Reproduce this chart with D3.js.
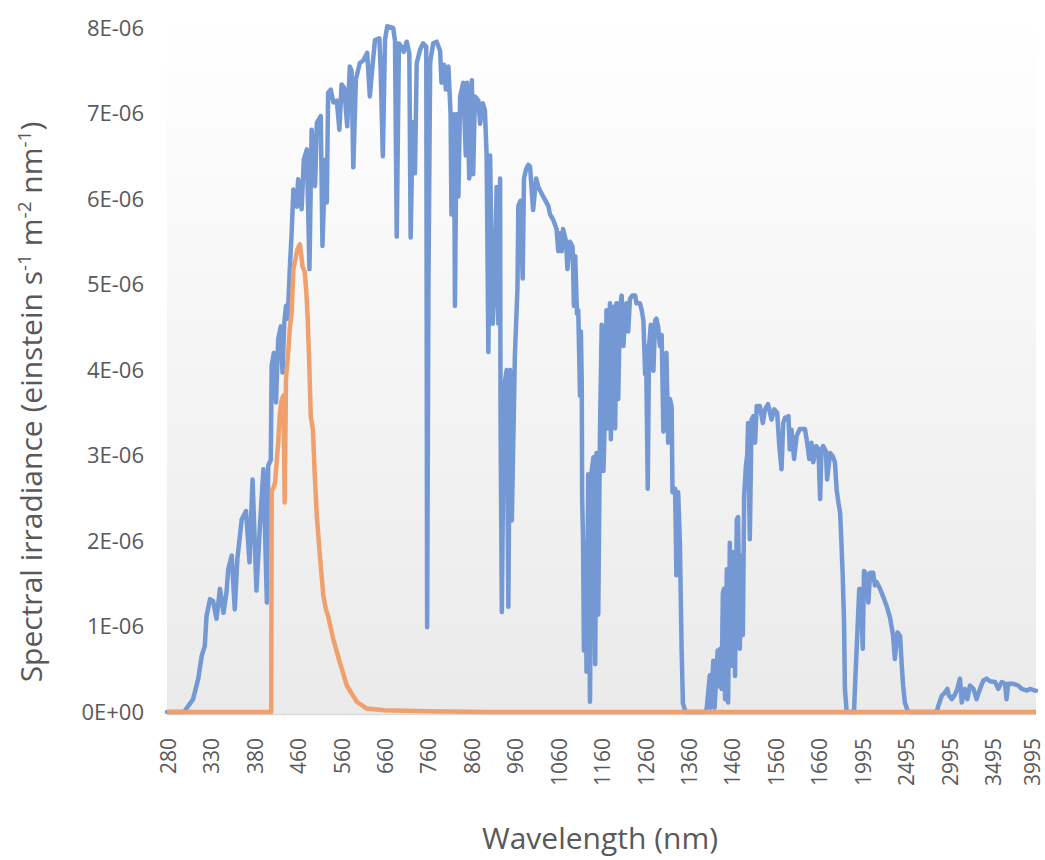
<!DOCTYPE html>
<html>
<head>
<meta charset="utf-8">
<script src="https://cdn.jsdelivr.net/npm/d3@7"></script>
<style>
  html, body { margin: 0; padding: 0; background: #ffffff; }
  svg { display: block; }
  text { font-family: "Open Sans", "Liberation Sans", sans-serif; fill: #595959; }
</style>
</head>
<body>
<svg id="chart" width="1045" height="860"></svg>
<script>
// ---- Data (values in units of 1E-06 einstein s^-1 m^-2 nm^-1) ----
const UNIT = 1e-6;

// Category axis tick labels (wavelength, nm)
const xTickLabels = [280, 330, 380, 460, 560, 660, 760, 860, 960, 1060, 1160, 1260,
                     1360, 1460, 1560, 1660, 1995, 2495, 2995, 3495, 3995];
const yTickLabels = ["0E+00", "1E-06", "2E-06", "3E-06", "4E-06", "5E-06", "6E-06", "7E-06", "8E-06"];

// Category breakpoints of the wavelength grid (nm) and their category index
const gridWavelengths = [280, 400, 1700, 1702, 1705, 4000];
const gridIndices = [0, 240, 1540, 1541, 1542, 2001];

// Solar spectral photon irradiance [wavelength, value]
const solarSeries = [
[280,0],[300,0],[301,0.02],[310,0.15],[316,0.39],[320,0.66],[323.5,0.77],[325.5,1.12],[329.5,1.32],[333,1.3],
[337,1.09],[341,1.44],[345,1.16],[348.5,1.4],[350.5,1.67],[354.5,1.83],[358,1.2],[361,1.79],[366,2.25],[371,2.35],
[375,1.75],[378.5,2.72],[383,1.42],[387,2.18],[391,2.84],[395,1.28],[396.5,2.88],[399.5,2.95],[401,4.05],[406,4.2],
[411,3.62],[416,4.36],[422,4.51],[426,3.97],[430,4.55],[434,4.75],[438,4.6],[443,5.21],[447,5.6],[451,6.11],
[455,5.95],[459,5.91],[462,6.23],[466,6.1],[470,5.88],[475,6.46],[482,6.58],[488,5.18],[493,6.81],[501,6.15],
[505,6.89],[514,6.97],[518,5.45],[524,6.46],[528,5.96],[531,7.24],[537,7.28],[543,7.13],[551,7.15],[557,6.81],
[562,7.34],[568,7.3],[575,6.85],[581,7.55],[585,7.5],[589,6.37],[595,7.4],[604,7.59],[612,7.62],[621,7.71],
[627,7.2],[634,7.6],[639,7.86],[649,7.88],[652,7.5],[657,6.5],[662,7.86],[667,8.02],[681,8.0],[685,7.85],
[689,5.56],[694,7.82],[700,7.78],[705,7.72],[712,7.84],[718,7.7],[721,5.55],[726,6.9],[731,6.3],[735,7.59],
[743,7.75],[750,7.82],[757,7.78],[759,0.99],[762,5.0],[766,7.6],[773,7.82],[781,7.84],[789,7.73],[792,7.36],
[798,7.57],[802,7.28],[808,7.55],[813,6.99],[815,5.82],[821,6.99],[823,4.75],[827,6.99],[831,6.03],[835,7.2],
[842,7.36],[848,6.51],[851,7.36],[856,6.24],[862,7.39],[865,6.29],[869,7.2],[877,7.15],[881,6.88],[887,7.12],
[892,7.04],[896,6.51],[900,4.21],[904,6.51],[908,5.18],[910,4.54],[915,5.07],[919,6.14],[923,4.54],[927,6.24],
[928,3.47],[931,1.17],[936,3.79],[942,4.0],[946,1.23],[950,4.0],[954,2.24],[961,4.16],[967,4.96],[969,5.92],
[974,5.98],[979,5.07],[982,6.24],[987,6.35],[992,6.4],[996,6.38],[1003,5.87],[1010,6.24],[1015,6.14],[1026,6.03],
[1038,5.92],[1042,5.82],[1049,5.76],[1057,5.65],[1061,5.39],[1065,5.6],[1069,5.39],[1072,5.65],[1079,5.5],[1082,5.18],
[1088,5.5],[1094,5.44],[1097,4.75],[1100,5.33],[1104,4.66],[1107,4.7],[1111,3.7],[1113,4.45],[1115,3.87],[1116,2.48],
[1118,2.02],[1120,0.72],[1124,1.77],[1126,0.47],[1130,2.78],[1134,0.12],[1138,2.82],[1142,2.98],[1146,0.56],[1149,3.03],
[1153,1.14],[1157,3.28],[1161,4.53],[1165,2.82],[1169,3.61],[1172,4.7],[1176,3.32],[1180,4.78],[1182,3.19],[1188,4.74],
[1192,3.32],[1195,4.78],[1199,3.66],[1203,4.74],[1207,4.87],[1211,4.28],[1215,4.66],[1218,4.78],[1222,4.45],[1226,4.83],
[1231,4.87],[1238,4.87],[1241,4.78],[1249,4.78],[1253,4.7],[1257,4.58],[1261,3.95],[1263,4.28],[1267,2.61],[1270,4.28],
[1274,4.53],[1280,3.99],[1284,4.58],[1287,4.6],[1291,4.5],[1295,4.28],[1299,4.41],[1303,3.28],[1306,4.12],[1310,4.2],
[1314,3.15],[1318,3.66],[1322,3.57],[1324,2.57],[1330,2.61],[1333,1.6],[1337,2.57],[1341,1.98],[1345,0.72],[1348,0.1],
[1354,0],[1400,0],[1403,0.05],[1410,0.43],[1412,0.05],[1418,0.6],[1421,0.05],[1428,0.72],[1431,0.3],[1434,0.74],
[1437,0.27],[1440,1.39],[1442.5,1.44],[1445,0.15],[1449,1.67],[1452,0.11],[1456,1.98],[1460,0.54],[1464,1.87],[1468,0.42],
[1472,2.25],[1475,2.28],[1479,0.74],[1483,1.83],[1486,0.9],[1489,2.53],[1493,2.88],[1496,3.0],[1498,3.38],[1502,2.02],
[1506,3.42],[1510,3.46],[1514,3.15],[1518,3.58],[1525,3.58],[1532,3.38],[1537,3.54],[1544,3.6],[1552,3.42],[1558,3.54],
[1565,3.5],[1570,3.11],[1575,2.84],[1579,3.38],[1583,3.44],[1591,3.46],[1594,3.07],[1598,3.3],[1604,2.96],[1610,3.23],
[1617,3.31],[1629,3.31],[1634,3.15],[1639,2.96],[1644,3.15],[1648,2.92],[1655,3.11],[1660,3.07],[1664,2.49],[1667,3.07],
[1671,3.11],[1677,3.05],[1680,2.72],[1687,3.03],[1693,2.99],[1698,2.92],[1705,2.6],[1725,2.45],[1745,2.33],[1755,2.1],
[1775,1.59],[1790,1.05],[1800,0.27],[1820,0],[1905,0],[1915,0.27],[1940,0.85],[1965,1.44],[1985,1.44],[2005,0.74],
[2020,1.65],[2050,1.6],[2070,1.28],[2090,1.63],[2125,1.63],[2145,1.48],[2165,1.52],[2205,1.44],[2240,1.35],[2280,1.24],
[2320,1.1],[2355,0.89],[2375,0.62],[2405,0.93],[2435,0.89],[2455,0.54],[2470,0.31],[2490,0.11],[2520,0.02],[2540,0],
[2855,0],[2875,0.07],[2915,0.19],[2945,0.22],[2980,0.27],[2995,0.2],[3030,0.15],[3065,0.2],[3095,0.27],[3125,0.39],
[3145,0.11],[3180,0.27],[3210,0.15],[3240,0.31],[3280,0.27],[3315,0.15],[3355,0.27],[3395,0.37],[3430,0.39],[3470,0.36],
[3530,0.35],[3565,0.27],[3605,0.35],[3645,0.33],[3660,0.15],[3680,0.33],[3740,0.33],[3795,0.31],[3835,0.27],[3895,0.25],
[3930,0.27],[3990,0.25],[4000,0.25]
];

// Second series (orange) [wavelength, value]
const orangeSeries = [
[280,0],[400,0],[401,2.59],[405,2.62],[409,2.69],[416,3.15],[420,3.5],[424,3.65],[428,3.7],[431,2.45],
[434,3.9],[439,4.2],[443,4.5],[447,4.67],[451,5.18],[456,5.3],[460,5.41],[466,5.47],[469,5.35],[472,5.21],
[477,5.15],[481,4.9],[484,4.6],[488,4.0],[491,3.46],[496,3.3],[500,2.8],[505,2.29],[512,1.83],[520,1.36],
[526,1.2],[531,1.12],[543,0.85],[558,0.58],[574,0.31],[597,0.12],[620,0.04],[660,0.02],[760,0.01],[900,0],
[4000,0]
];

// ---- Layout ----
const svg = d3.select("#chart");
const plotLeft = 167, plotRight = 1036, plotTop = 20, plotBottom = 714;
const step = (plotRight - plotLeft) / 2001;

const x = d3.scaleLinear()
  .domain(gridWavelengths)
  .range(gridIndices.map(i => plotLeft + i * step));
const y = d3.scaleLinear().domain([0, 8 * UNIT]).range([712, 28]);

// Plot area gradient background
const defs = svg.append("defs");
const grad = defs.append("linearGradient").attr("id", "bg")
  .attr("x1", 0).attr("y1", 0).attr("x2", 0).attr("y2", 1);
grad.append("stop").attr("offset", "0%").attr("stop-color", "#ffffff");
grad.append("stop").attr("offset", "100%").attr("stop-color", "#eaeaea");
svg.append("rect")
  .attr("x", plotLeft).attr("y", plotTop)
  .attr("width", plotRight - plotLeft).attr("height", plotBottom - plotTop)
  .attr("fill", "url(#bg)");

// bottom axis line
svg.append("line")
  .attr("x1", plotLeft).attr("x2", plotRight)
  .attr("y1", plotBottom + 0.5).attr("y2", plotBottom + 0.5)
  .attr("stroke", "#d9d9d9").attr("stroke-width", 1.5);

// Y axis
const yAxis = d3.axisLeft(y)
  .tickValues(d3.range(yTickLabels.length).map(i => i * UNIT))
  .tickFormat((d, i) => yTickLabels[i])
  .tickSize(0).tickPadding(23);
const gy = svg.append("g").attr("transform", `translate(${plotLeft},0)`).call(yAxis);
gy.select(".domain").remove();
gy.selectAll("text").style("font-size", "22px").attr("fill", "#595959")
  .style("font-family", '"Open Sans", sans-serif');

// X axis (category labels)
const xAxis = d3.axisBottom(x).tickValues(xTickLabels).tickFormat(d => String(d)).tickSize(0);
const gx = svg.append("g").attr("transform", `translate(0,${plotBottom})`).call(xAxis);
gx.select(".domain").remove();
gx.selectAll("text")
  .attr("transform", "rotate(-90)")
  .attr("x", -24)
  .attr("y", (d, i) => i === xTickLabels.length - 1 ? -3 : 1)
  .attr("dy", "0.35em")
  .style("text-anchor", "end")
  .style("font-size", "21px").attr("fill", "#595959")
  .style("font-family", '"Open Sans", sans-serif');

// Lines
const line = d3.line()
  .x(d => x(d[0]))
  .y(d => y(d[1] * UNIT));

svg.append("path").datum(solarSeries)
  .attr("d", line)
  .attr("fill", "none")
  .attr("stroke", "#7398d3")
  .attr("stroke-width", 4.5)
  .attr("stroke-linejoin", "round")
  .attr("stroke-linecap", "round");

svg.append("path").datum(orangeSeries)
  .attr("d", line)
  .attr("fill", "none")
  .attr("stroke", "#efa06c")
  .attr("stroke-width", 4.5)
  .attr("stroke-linejoin", "round")
  .attr("stroke-linecap", "butt");

// Axis titles
svg.append("text")
  .attr("x", 600).attr("y", 849)
  .attr("text-anchor", "middle")
  .style("font-size", "30px")
  .text("Wavelength (nm)");

const yt = svg.append("text")
  .attr("transform", "translate(42,402) rotate(-90)")
  .attr("text-anchor", "middle")
  .style("font-size", "30px");
yt.append("tspan").text("Spectral irradiance (einstein s");
yt.append("tspan").attr("dy", "-11").style("font-size", "19px").text("-1");
yt.append("tspan").attr("dy", "11").text(" m");
yt.append("tspan").attr("dy", "-11").style("font-size", "19px").text("-2");
yt.append("tspan").attr("dy", "11").text(" nm");
yt.append("tspan").attr("dy", "-11").style("font-size", "19px").text("-1");
yt.append("tspan").attr("dy", "11").text(")");
</script>
</body>
</html>
